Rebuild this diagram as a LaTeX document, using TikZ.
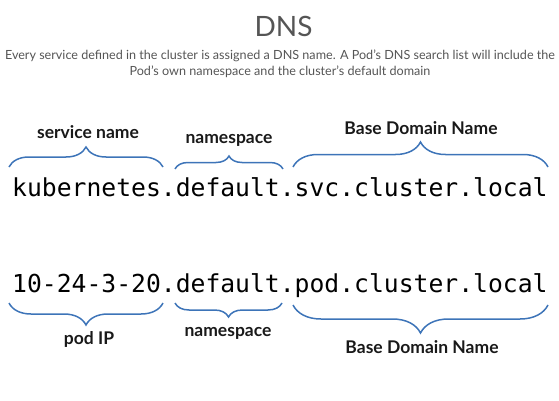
\documentclass[tikz,border=0pt]{standalone}
\usepackage{fontspec}
\setmainfont{Lato}
\setmonofont{DejaVu Sans Mono}
\usetikzlibrary{decorations.pathreplacing,positioning}
\definecolor{bracecol}{HTML}{3D74B8}
\definecolor{softgray}{HTML}{555555}

\begin{document}
\begin{tikzpicture}[x=1pt,y=-1pt,
		headline/.style = {font=\fontsize{28}{32}\selectfont,text=softgray,inner sep=0},
		subline/.style  = {font=\fontsize{12.6}{15.5}\selectfont,text=softgray,inner sep=0,align=center},
		hostname/.style = {font=\ttfamily\fontsize{24.7}{30}\selectfont,inner sep=0,anchor=base west},
		part/.style     = {font=\bfseries\fontsize{17.5}{20}\selectfont,text=black!90,inner sep=0},
		curly/.style    = {draw=bracecol,line width=1.5pt,decorate,
			decoration={brace,amplitude=#1}},
		curlydown/.style= {draw=bracecol,line width=1.5pt,decorate,
			decoration={brace,mirror,amplitude=#1}}]
		\useasboundingbox (0,0) rectangle (559,401);

		% heading
		\node[headline,anchor=base] (title) at (283.5,37) {DNS};
		\node[subline,anchor=north] (intro) at (280,50)
			{Every service defined in the cluster is assigned a DNS name. A Pod's DNS search list will include the\\
			 Pod's own namespace and the cluster's default domain};

		% the two names
		\node[hostname] (svcname) at (12,196) {kubernetes.default.svc.cluster.local};
		\node[hostname] (podname) at (12,292) {10-24-3-20.default.pod.cluster.local};

		% braces above the service name
		\coordinate (svcA) at (9,167);   \coordinate (svcB) at (163,167);
		\coordinate (nsA)  at (175,169); \coordinate (nsB)  at (283,169);
		\coordinate (domA) at (293,167); \coordinate (domB) at (548,167);
		\draw[curly=20] (svcA) -- (svcB);
		\draw[curly=13] (nsA) -- (nsB);
		\draw[curly=25] (domA) -- (domB);
		\node[part] (svclbl) at (88,132) {service name};
		\node[part] (nslbl)  at (229,140) {namespace};
		\node[part] (domlbl) at (421,128) {Base Domain Name};

		% braces below the pod name
		\coordinate (ipA)   at (9,303);   \coordinate (ipB)   at (163,303);
		\coordinate (pnsA)  at (175,303); \coordinate (pnsB)  at (282,303);
		\coordinate (pdomA) at (293,305); \coordinate (pdomB) at (548,305);
		\draw[curlydown=22] (ipA) -- (ipB);
		\draw[curlydown=14] (pnsA) -- (pnsB);
		\draw[curlydown=28] (pdomA) -- (pdomB);
		\node[part] (iplbl)   at (89,339) {pod IP};
		\node[part] (pnslbl)  at (228,333) {namespace};
		\node[part] (pdomlbl) at (422,347) {Base Domain Name};
	\end{tikzpicture}
\end{document}
